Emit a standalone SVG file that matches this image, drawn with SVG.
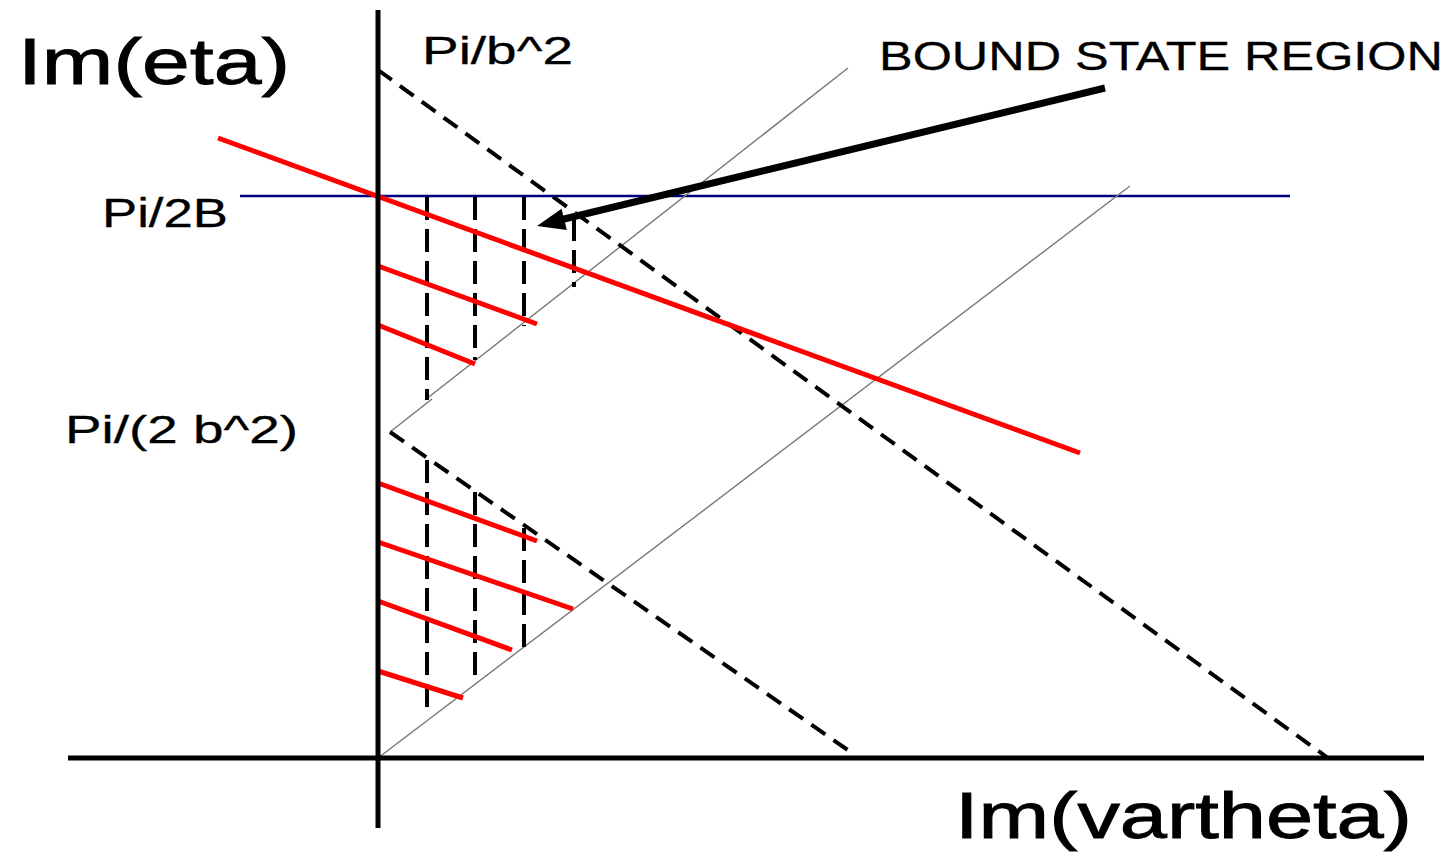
<svg xmlns="http://www.w3.org/2000/svg" width="1447" height="853" viewBox="0 0 1447 853">
<style>
.lbl{font-family:"Liberation Sans",Arial,sans-serif;fill:#000;stroke:#000;stroke-width:0.3}
.big{stroke-width:0.9}
.axis{stroke:#000;stroke-width:5;fill:none}
.thin{stroke:#777;stroke-width:1.4;fill:none}
.diag{stroke:#000;stroke-width:4;stroke-dasharray:17,10;fill:none}
.vdash{stroke:#000;stroke-width:4;stroke-dasharray:23,9;fill:none}
.red{stroke:#ff0000;stroke-width:5;fill:none}
.blue{stroke:#000080;stroke-width:2.5;fill:none}
</style>
<rect width="1447" height="853" fill="#fff"/>
<g id="connectors">
<line class="blue" x1="240" y1="196" x2="1290" y2="196"/>
<line class="thin" x1="378" y1="758" x2="1130" y2="186"/>
<polyline class="thin" points="425,400 848,68"/>
<line class="thin" x1="390" y1="432" x2="432" y2="399"/>
<line class="diag" x1="378" y1="70" x2="1328" y2="758"/>
<line class="diag" x1="390" y1="432" x2="855" y2="755"/>
<line class="vdash" x1="427" y1="197" x2="427" y2="400"/>
<line class="vdash" x1="475" y1="197" x2="475" y2="360"/>
<line class="vdash" x1="524" y1="197" x2="524" y2="326"/>
<line class="vdash" x1="574" y1="218" x2="574" y2="287"/>
<line class="vdash" x1="427" y1="460" x2="427" y2="710"/>
<line class="vdash" x1="475" y1="492" x2="475" y2="680"/>
<line class="vdash" x1="524" y1="528" x2="524" y2="648"/>
<line class="red" x1="218" y1="138" x2="1080" y2="453"/>
<line class="red" x1="378" y1="266" x2="537" y2="324"/>
<line class="red" x1="378" y1="325" x2="475" y2="364"/>
<line class="red" x1="378" y1="483" x2="537" y2="541"/>
<line class="red" x1="378" y1="542" x2="573" y2="609"/>
<line class="red" x1="378" y1="601" x2="512" y2="650"/>
<line class="red" x1="378" y1="671" x2="463" y2="698"/>
<line class="axis" x1="378" y1="10" x2="378" y2="828"/>
<line class="axis" x1="68" y1="758" x2="1424" y2="758"/>
<line x1="1105" y1="88" x2="560" y2="220" stroke="#000" stroke-width="7"/>
<polygon points="537,226 561.6,208.7 566.8,230.1" fill="#000"/>
</g>
<g id="label-im-eta"><text class="lbl big" x="18" y="84" font-size="64" textLength="272" lengthAdjust="spacingAndGlyphs">Im(eta)</text></g>
<g id="label-pi-b2"><text class="lbl" x="422" y="64" font-size="38" textLength="151" lengthAdjust="spacingAndGlyphs">Pi/b^2</text></g>
<g id="label-bound"><text class="lbl" x="879" y="70" font-size="41" textLength="564" lengthAdjust="spacingAndGlyphs">BOUND STATE REGION</text></g>
<g id="label-pi-2b"><text class="lbl" x="102" y="227" font-size="41" textLength="126" lengthAdjust="spacingAndGlyphs">Pi/2B</text></g>
<g id="label-pi-2b2"><text class="lbl" x="65" y="443" font-size="38" textLength="233" lengthAdjust="spacingAndGlyphs">Pi/(2 b^2)</text></g>
<g id="label-im-vartheta"><text class="lbl big" x="955" y="838" font-size="64" textLength="457" lengthAdjust="spacingAndGlyphs">Im(vartheta)</text></g>
</svg>
